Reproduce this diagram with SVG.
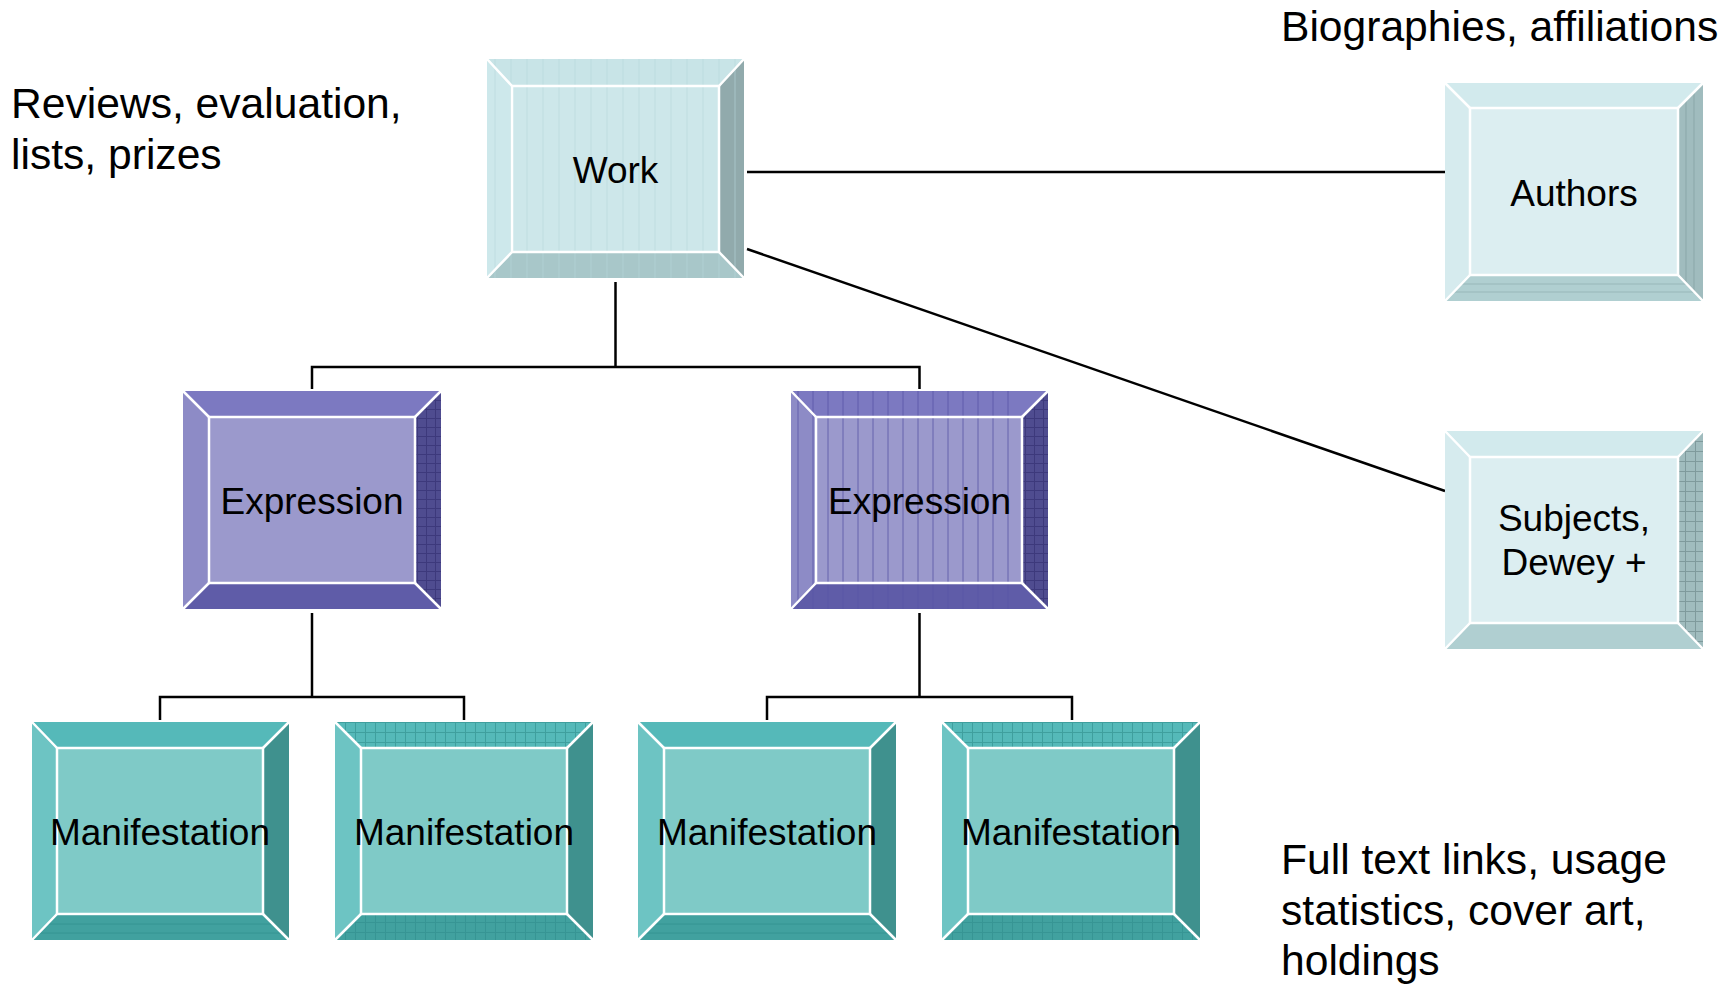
<svg xmlns="http://www.w3.org/2000/svg" width="1735" height="984" viewBox="0 0 1735 984">
<style>
text{font-family:"Liberation Sans",Arial,sans-serif;fill:#000}
.lbl{font-size:37px;text-anchor:middle}
.side{font-size:42.6px}
.conn{stroke:#000;stroke-width:2.5;fill:none}
.hl{fill:none;stroke:#fff;stroke-width:2.5}
.work .t{fill:#c8e4e7}.work .l{fill:#cde8eb}.work .r{fill:#91aaac}.work .b{fill:#a8c7c9}.work .f{fill:#cde7ea}
.auth .t{fill:#d2eaed}.auth .l{fill:#d6ebee}.auth .r{fill:#a0bcbe}.auth .b{fill:#b0cfd1}.auth .f{fill:#dceef1}
.exp .t{fill:#7c79c1}.exp .l{fill:#8d8bc6}.exp .r{fill:#4f4c90}.exp .b{fill:#5f5ca8}.exp .f{fill:#9b99cc}
.man .t{fill:#55b9b9}.man .l{fill:#6dc4c3}.man .r{fill:#3f918e}.man .b{fill:#41a19f}.man .f{fill:#7fcac7}
</style>
<defs>
<pattern id="vs-light" width="16" height="10" patternUnits="userSpaceOnUse"><line x1="8" y1="0" x2="8" y2="10" stroke="#b5d6da" stroke-width="1"/></pattern>
<pattern id="vs-blue" width="15" height="10" patternUnits="userSpaceOnUse"><line x1="7" y1="0" x2="7" y2="10" stroke="#5753a6" stroke-width="1"/></pattern>
<pattern id="grid-dark" width="9" height="9" patternUnits="userSpaceOnUse"><path d="M0 0.5H9M0.5 0V9" stroke="#2f2c6e" stroke-width="1" opacity="0.6"/></pattern>
<pattern id="grid-gray" width="10" height="10" patternUnits="userSpaceOnUse"><path d="M0 0.5H10M0.5 0V10" stroke="#7f9a9c" stroke-width="1"/></pattern>
<pattern id="grid-teal" width="10" height="10" patternUnits="userSpaceOnUse"><path d="M0 0.5H10M0.5 0V10" stroke="#2f8e8c" stroke-width="1" opacity="0.6"/></pattern>
<pattern id="hl-teal" width="10" height="9" patternUnits="userSpaceOnUse"><line x1="0" y1="4" x2="10" y2="4" stroke="#2a8a88" stroke-width="1" opacity="0.6"/></pattern>
</defs>

<g id="connectors">
<line class="conn" x1="747" y1="172" x2="1445" y2="172"/>
<line class="conn" x1="747" y1="249" x2="1445" y2="491"/>
<polyline class="conn" points="615.5,282 615.5,367"/>
<polyline class="conn" points="312,389 312,367 919.5,367 919.5,389"/>
<polyline class="conn" points="312,613 312,697"/>
<polyline class="conn" points="160,720 160,697 464,697 464,720"/>
<polyline class="conn" points="919.5,613 919.5,697"/>
<polyline class="conn" points="767,720 767,697 1072,697 1072,720"/>
</g>

<g id="node-work" class="work" transform="translate(487,59)">
<polygon class="t" points="0,0 257,0 232,27 25,27"/>
<polygon class="l" points="0,0 25,27 25,193 0,219"/>
<polygon class="r" points="257,0 257,219 232,193 232,27"/>
<polygon class="b" points="0,219 25,193 232,193 257,219"/>
<rect class="f" x="25" y="27" width="207" height="166"/>
<rect x="0" y="0" width="257" height="219" fill="url(#vs-light)" opacity="0.6"/>
<rect class="hl" x="25" y="27" width="207" height="166"/>
<path class="hl" d="M0 0L25 27M257 0L232 27M0 219L25 193M257 219L232 193"/>
<text class="lbl" x="128.5" y="124">Work</text>
</g>

<g id="node-authors" class="auth" transform="translate(1445,83)">
<polygon class="t" points="0,0 258,0 233,25 25,25"/>
<polygon class="l" points="0,0 25,25 25,192 0,218"/>
<polygon class="r" points="258,0 258,218 233,192 233,25"/>
<polygon class="b" points="0,218 25,192 233,192 258,218"/>
<path d="M241 17V200M249 9V208" stroke="#8aa7a9" stroke-width="1"/>
<path d="M17 201H241M9 209H249" stroke="#98b7b9" stroke-width="1"/>
<rect class="f" x="25" y="25" width="208" height="167"/>
<rect class="hl" x="25" y="25" width="208" height="167"/>
<path class="hl" d="M0 0L25 25M258 0L233 25M0 218L25 192M258 218L233 192"/>
<text class="lbl" x="129" y="123">Authors</text>
</g>

<g id="node-subjects" class="auth" transform="translate(1445,431)">
<polygon class="t" points="0,0 258,0 233,26 25,26"/>
<polygon class="l" points="0,0 25,26 25,192 0,218"/>
<polygon class="r" points="258,0 258,218 233,192 233,26"/>
<polygon class="b" points="0,218 25,192 233,192 258,218"/>
<polygon points="258,0 258,218 233,192 233,26" fill="url(#grid-gray)"/>
<rect class="f" x="25" y="26" width="208" height="166"/>
<rect class="hl" x="25" y="26" width="208" height="166"/>
<path class="hl" d="M0 0L25 26M258 0L233 26M0 218L25 192M258 218L233 192"/>
<text class="lbl" x="129" y="100">Subjects,</text>
<text class="lbl" x="129" y="144">Dewey +</text>
</g>

<g id="node-expression-1" class="exp" transform="translate(183,391)">
<polygon class="t" points="0,0 258,0 232,26 26,26"/>
<polygon class="l" points="0,0 26,26 26,192 0,218"/>
<polygon class="r" points="258,0 258,218 232,192 232,26"/>
<polygon class="b" points="0,218 26,192 232,192 258,218"/>
<polygon points="258,0 258,218 232,192 232,26" fill="url(#grid-dark)"/>
<rect class="f" x="26" y="26" width="206" height="166"/>
<rect class="hl" x="26" y="26" width="206" height="166"/>
<path class="hl" d="M0 0L26 26M258 0L232 26M0 218L26 192M258 218L232 192"/>
<text class="lbl" x="129" y="123">Expression</text>
</g>

<g id="node-expression-2" class="exp" transform="translate(791,391)">
<polygon class="t" points="0,0 257,0 231,26 25,26"/>
<polygon class="l" points="0,0 25,26 25,192 0,218"/>
<polygon class="r" points="257,0 257,218 231,192 231,26"/>
<polygon class="b" points="0,218 25,192 231,192 257,218"/>
<rect class="f" x="25" y="26" width="206" height="166"/>
<rect x="0" y="0" width="231" height="218" fill="url(#vs-blue)" opacity="0.8"/>
<polygon points="257,0 257,218 231,192 231,26" fill="url(#grid-dark)"/>
<rect class="hl" x="25" y="26" width="206" height="166"/>
<path class="hl" d="M0 0L25 26M257 0L231 26M0 218L25 192M257 218L231 192"/>
<text class="lbl" x="128.5" y="123">Expression</text>
</g>

<g id="node-manifestation-1" class="man" transform="translate(32,722)">
<polygon class="t" points="0,0 257,0 231,26 25,26"/>
<polygon class="l" points="0,0 25,26 25,192 0,218"/>
<polygon class="r" points="257,0 257,218 231,192 231,26"/>
<polygon class="b" points="0,218 25,192 231,192 257,218"/>
<polygon points="0,218 25,192 231,192 257,218" fill="url(#hl-teal)"/>
<rect class="f" x="25" y="26" width="206" height="166"/>
<rect class="hl" x="25" y="26" width="206" height="166"/>
<path class="hl" d="M0 0L25 26M257 0L231 26M0 218L25 192M257 218L231 192"/>
<text class="lbl" x="128" y="123">Manifestation</text>
</g>

<g id="node-manifestation-2" class="man" transform="translate(335,722)">
<polygon class="t" points="0,0 258,0 232,26 26,26"/>
<polygon class="l" points="0,0 26,26 26,192 0,218"/>
<polygon class="r" points="258,0 258,218 232,192 232,26"/>
<polygon class="b" points="0,218 26,192 232,192 258,218"/>
<polygon points="0,0 258,0 232,26 26,26" fill="url(#grid-teal)"/>
<polygon points="0,218 26,192 232,192 258,218" fill="url(#grid-teal)"/>
<rect class="f" x="26" y="26" width="206" height="166"/>
<rect class="hl" x="26" y="26" width="206" height="166"/>
<path class="hl" d="M0 0L26 26M258 0L232 26M0 218L26 192M258 218L232 192"/>
<text class="lbl" x="129" y="123">Manifestation</text>
</g>

<g id="node-manifestation-3" class="man" transform="translate(638,722)">
<polygon class="t" points="0,0 258,0 232,26 26,26"/>
<polygon class="l" points="0,0 26,26 26,192 0,218"/>
<polygon class="r" points="258,0 258,218 232,192 232,26"/>
<polygon class="b" points="0,218 26,192 232,192 258,218"/>
<polygon points="0,218 26,192 232,192 258,218" fill="url(#hl-teal)"/>
<rect class="f" x="26" y="26" width="206" height="166"/>
<rect class="hl" x="26" y="26" width="206" height="166"/>
<path class="hl" d="M0 0L26 26M258 0L232 26M0 218L26 192M258 218L232 192"/>
<text class="lbl" x="129" y="123">Manifestation</text>
</g>

<g id="node-manifestation-4" class="man" transform="translate(942,722)">
<polygon class="t" points="0,0 258,0 232,26 26,26"/>
<polygon class="l" points="0,0 26,26 26,192 0,218"/>
<polygon class="r" points="258,0 258,218 232,192 232,26"/>
<polygon class="b" points="0,218 26,192 232,192 258,218"/>
<polygon points="0,0 258,0 232,26 26,26" fill="url(#grid-teal)"/>
<polygon points="0,218 26,192 232,192 258,218" fill="url(#grid-teal)"/>
<rect class="f" x="26" y="26" width="206" height="166"/>
<rect class="hl" x="26" y="26" width="206" height="166"/>
<path class="hl" d="M0 0L26 26M258 0L232 26M0 218L26 192M258 218L232 192"/>
<text class="lbl" x="129" y="123">Manifestation</text>
</g>

<g id="notes">
<text class="side" x="11" y="118">Reviews, evaluation,</text>
<text class="side" x="11" y="169">lists, prizes</text>
<text class="side" x="1281" y="41">Biographies, affiliations</text>
<text class="side" x="1281" y="874">Full text links, usage</text>
<text class="side" x="1281" y="925">statistics, cover art,</text>
<text class="side" x="1281" y="975">holdings</text>
</g>
</svg>
